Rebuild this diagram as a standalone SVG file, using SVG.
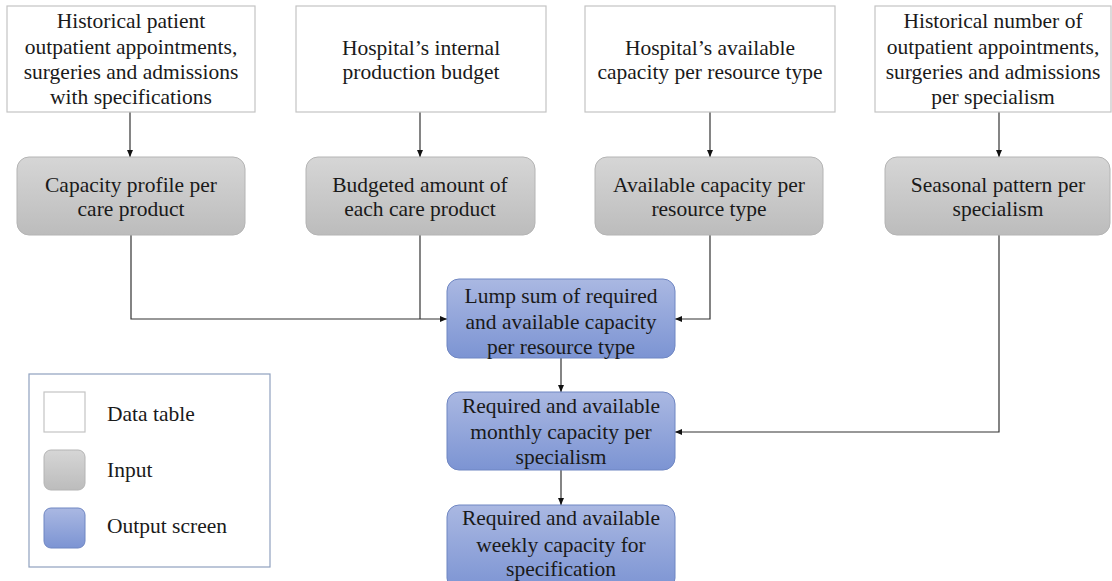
<svg xmlns="http://www.w3.org/2000/svg" width="1112" height="581" viewBox="0 0 1112 581">
  <style>
    text { font-family: "Liberation Serif", "Times New Roman", serif; font-size: 21.5px; fill: #1a1a1a; text-anchor: middle; }
    .legend text { text-anchor: start; }
    .table { fill: #ffffff; stroke: #c4c4c4; stroke-width: 1.2; }
    .input { fill: url(#gradGray); stroke: #b4b4b4; stroke-width: 1; }
    .output { fill: url(#gradBlue); stroke: #6f86c2; stroke-width: 1; }
    .wire { fill: none; stroke: #333333; stroke-width: 1.2; }
  </style>
  <defs>
    <linearGradient id="gradGray" x1="0" y1="0" x2="0" y2="1">
      <stop offset="0" stop-color="#d6d6d6"/>
      <stop offset="1" stop-color="#bcbcbc"/>
    </linearGradient>
    <linearGradient id="gradBlue" x1="0" y1="0" x2="0" y2="1">
      <stop offset="0" stop-color="#aab8e2"/>
      <stop offset="1" stop-color="#7c94d3"/>
    </linearGradient>
    <marker id="arrow" markerWidth="8" markerHeight="8" refX="7" refY="4" orient="auto" markerUnits="userSpaceOnUse">
      <path d="M0,1 L7,4 L0,7 Z" fill="#111111"/>
    </marker>
  </defs>

  <rect width="1112" height="581" fill="#ffffff"/>

  <!-- connectors -->
  <g id="connectors">
    <line class="wire" x1="130" y1="112" x2="130" y2="157" marker-end="url(#arrow)"/>
    <line class="wire" x1="420" y1="112" x2="420" y2="157" marker-end="url(#arrow)"/>
    <line class="wire" x1="710" y1="112" x2="710" y2="157" marker-end="url(#arrow)"/>
    <line class="wire" x1="999" y1="112" x2="999" y2="157" marker-end="url(#arrow)"/>
    <polyline class="wire" points="131,235 131,319 447,319" marker-end="url(#arrow)"/>
    <line class="wire" x1="420" y1="235" x2="420" y2="319"/>
    <polyline class="wire" points="710,235 710,319 675,319" marker-end="url(#arrow)"/>
    <polyline class="wire" points="999,235 999,432 675,432" marker-end="url(#arrow)"/>
    <line class="wire" x1="561" y1="358" x2="561" y2="392" marker-end="url(#arrow)"/>
    <line class="wire" x1="561" y1="470" x2="561" y2="505" marker-end="url(#arrow)"/>
  </g>

  <!-- data tables -->
  <g id="table-history">
    <rect class="table" x="7" y="6" width="248" height="106"/>
    <text x="131" y="28">Historical patient</text>
    <text x="131" y="54">outpatient appointments,</text>
    <text x="131" y="79">surgeries and admissions</text>
    <text x="131" y="104">with specifications</text>
  </g>
  <g id="table-budget">
    <rect class="table" x="296" y="6" width="250" height="106"/>
    <text x="421" y="55">Hospital’s internal</text>
    <text x="421" y="79">production budget</text>
  </g>
  <g id="table-capacity">
    <rect class="table" x="585" y="6" width="250" height="106"/>
    <text x="710" y="55">Hospital’s available</text>
    <text x="710" y="79">capacity per resource type</text>
  </g>
  <g id="table-specialism">
    <rect class="table" x="875" y="6" width="236" height="106"/>
    <text x="993" y="28">Historical number of</text>
    <text x="993" y="54">outpatient appointments,</text>
    <text x="993" y="79">surgeries and admissions</text>
    <text x="993" y="104">per specialism</text>
  </g>

  <!-- inputs -->
  <g id="input-profile">
    <rect class="input" x="17" y="157" width="228" height="78" rx="12"/>
    <text x="131" y="192">Capacity profile per</text>
    <text x="131" y="216">care product</text>
  </g>
  <g id="input-budget">
    <rect class="input" x="306" y="157" width="229" height="78" rx="12"/>
    <text x="420" y="192">Budgeted amount of</text>
    <text x="420" y="216">each care product</text>
  </g>
  <g id="input-capacity">
    <rect class="input" x="595" y="157" width="228" height="78" rx="12"/>
    <text x="709" y="192">Available  capacity per</text>
    <text x="709" y="216">resource type</text>
  </g>
  <g id="input-seasonal">
    <rect class="input" x="885" y="157" width="225" height="78" rx="12"/>
    <text x="998" y="192">Seasonal pattern per</text>
    <text x="998" y="216">specialism</text>
  </g>

  <!-- output screens -->
  <g id="output-lump">
    <rect class="output" x="447" y="279" width="228" height="79" rx="12"/>
    <text x="561" y="303">Lump sum of required</text>
    <text x="561" y="329">and available capacity</text>
    <text x="561" y="354">per resource type</text>
  </g>
  <g id="output-monthly">
    <rect class="output" x="447" y="392" width="228" height="78" rx="12"/>
    <text x="561" y="413">Required and available</text>
    <text x="561" y="439">monthly capacity per</text>
    <text x="561" y="464">specialism</text>
  </g>
  <g id="output-weekly">
    <rect class="output" x="447" y="505" width="228" height="85" rx="12"/>
    <text x="561" y="525">Required and available</text>
    <text x="561" y="552">weekly capacity for</text>
    <text x="561" y="576">specification</text>
  </g>

  <!-- legend -->
  <g id="legend" class="legend">
    <rect x="29" y="374" width="241" height="193" fill="#ffffff" stroke="#8fa1bf" stroke-width="1.2"/>
    <rect class="table" x="44" y="392" width="41" height="40"/>
    <text x="107" y="421">Data table</text>
    <rect class="input" x="44" y="450" width="41" height="40" rx="7"/>
    <text x="107" y="477">Input</text>
    <rect class="output" x="44" y="508" width="41" height="40" rx="7"/>
    <text x="107" y="533">Output screen</text>
  </g>
</svg>
